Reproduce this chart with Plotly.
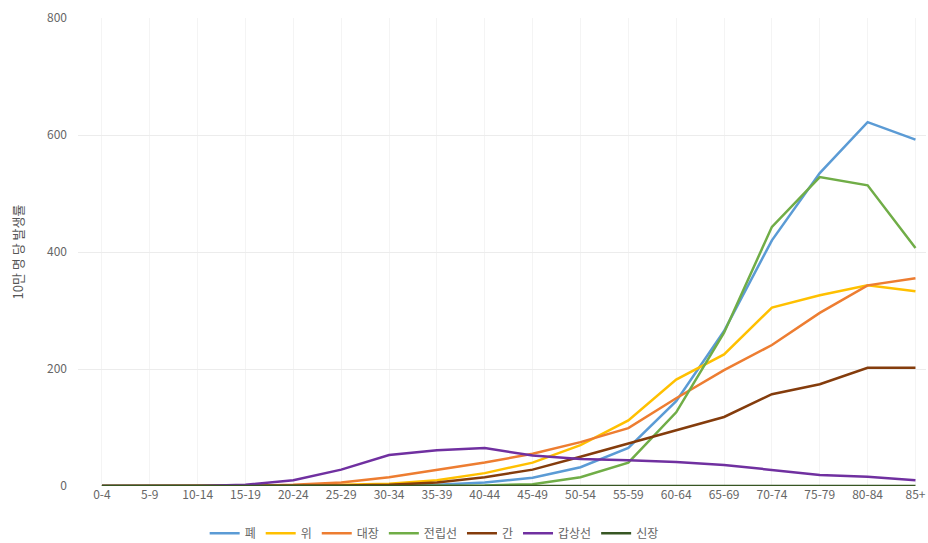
import plotly.graph_objects as go

age_groups = ["0-4", "5-9", "10-14", "15-19", "20-24", "25-29", "30-34", "35-39", "40-44",
              "45-49", "50-54", "55-59", "60-64", "65-69", "70-74", "75-79", "80-84", "85+"]

lung = [0, 0, 0, 0, 0, 1, 1, 2, 6, 14, 32, 65, 145, 265, 420, 535, 622, 592]
stomach = [0, 0, 0, 0, 1, 2, 4, 10, 22, 40, 70, 112, 182, 225, 305, 326, 343, 333]
colorectal = [0, 0, 0, 0, 2, 6, 15, 27, 40, 55, 75, 99, 150, 198, 241, 296, 343, 355]
prostate = [0, 0, 0, 0, 0, 0, 0, 0, 1, 3, 15, 40, 126, 262, 443, 528, 514, 407]
liver = [0, 0, 0, 0, 0, 1, 2, 6, 15, 28, 50, 73, 96, 118, 157, 174, 202, 202]
thyroid = [0, 0, 0, 2, 10, 28, 53, 61, 65, 52, 46, 44, 41, 36, 27, 19, 16, 10]
kidney = [0, 0, 0, 0, 0, 0, 0, 0, 0, 0, 0, 0, 0, 0, 0, 0, 0, 0]

series = [
    ("폐", lung, "#5B9BD5"),
    ("위", stomach, "#FFC000"),
    ("대장", colorectal, "#ED7D31"),
    ("전립선", prostate, "#70AD47"),
    ("간", liver, "#843C0C"),
    ("갑상선", thyroid, "#7030A0"),
    ("신장", kidney, "#375623"),
]

y_ticks = [0, 200, 400, 600, 800]

fig = go.Figure()
for name, vals, color in series:
    fig.add_trace(go.Scatter(x=age_groups, y=vals, name=name, mode="lines",
                             line=dict(color=color, width=2.5)))

font_family = "Noto Sans CJK KR, Noto Sans, sans-serif"
fig.update_layout(
    width=928, height=543,
    margin=dict(l=78, r=2, t=18, b=57, autoexpand=False),
    plot_bgcolor="white", paper_bgcolor="white",
    font=dict(family=font_family, color="#666666", size=12),
    showlegend=True,
    legend=dict(orientation="h", x=0.42, xanchor="center", y=-0.07, yanchor="top",
                font=dict(size=12, color="#666666"), itemwidth=30, tracegroupgap=0),
    xaxis=dict(type="category", range=[-0.5, 17.22], showgrid=True, gridcolor="#f4f4f4",
               showline=False, zeroline=False, ticks="", tickangle=0,
               tickfont=dict(size=12, color="#666666")),
    yaxis=dict(range=[0, 800], tickvals=y_ticks, showgrid=True, gridcolor="#ececec",
               zeroline=False, showline=False, ticks="", ticklabelstandoff=10,
               tickfont=dict(size=12, color="#666666"),
               title=dict(text="10만 명 당 발생률", font=dict(size=13, color="#555555"), standoff=20)),
)

fig.write_html(
    "out.html",
    config={"displayModeBar": False},
    post_script="document.body.style.margin='0';document.body.style.overflow='hidden';",
)
